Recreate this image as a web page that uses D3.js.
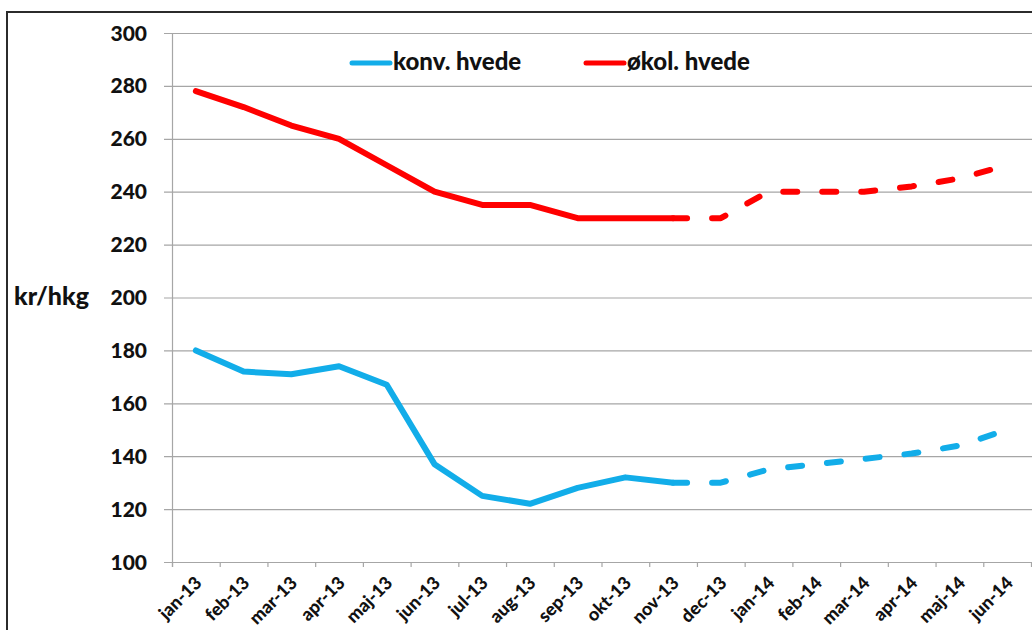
<!DOCTYPE html>
<html>
<head>
<meta charset="utf-8">
<script src="https://cdn.jsdelivr.net/npm/d3@7"></script>
<style>
  html, body { margin: 0; padding: 0; background: #fff; }
  svg { display: block; }
  text { font-family: Lato, "Open Sans", sans-serif; font-weight: 900; fill: #111; }
</style>
</head>
<body>
<svg id="chart" width="1032" height="630"></svg>
<script>
// ---- data ----
const categories = ["jan-13","feb-13","mar-13","apr-13","maj-13","jun-13","jul-13","aug-13","sep-13","okt-13","nov-13","dec-13","jan-14","feb-14","mar-14","apr-14","maj-14","jun-14"];
const konvHvede = [180,172,171,174,167,137,125,122,128,132,130,130,135,137,139,141,144,150];
const okolHvede = [278,272,265,260,250,240,235,235,230,230,230,230,240,240,240,242,245,250];
const seriesNames = ["konv. hvede","økol. hvede"];
const yTicks = [100,120,140,160,180,200,220,240,260,280,300];
const lastActualIndex = 10; // nov-13: solid up to here, dashed after
const yLabel = "kr/hkg";

// ---- layout ----
const svg = d3.select("#chart");
const W = 1032, H = 630;
const plot = { left: 172, right: 1031, top: 33, bottom: 562 };
const colors = ["#12ade9", "#ff0000"];

// frame
svg.append("rect").attr("x", 7).attr("y", 12).attr("width", W + 20).attr("height", H + 20)
  .attr("fill", "none").attr("stroke", "#2b2b2b").attr("stroke-width", 2);

const x = d3.scaleBand().domain(categories).range([plot.left, plot.right]).padding(0);
const y = d3.scaleLinear().domain([100, 300]).range([plot.bottom, plot.top]);

// horizontal gridlines
svg.append("g").selectAll("line").data(yTicks).join("line")
  .attr("x1", plot.left - 8).attr("x2", plot.right + 10)
  .attr("y1", d => y(d) + 0.5).attr("y2", d => y(d) + 0.5)
  .attr("stroke", "#a6a6a6").attr("stroke-width", 1.2);

// y axis line
svg.append("line").attr("x1", plot.left + 0.5).attr("x2", plot.left + 0.5)
  .attr("y1", plot.top).attr("y2", plot.bottom + 5)
  .attr("stroke", "#a6a6a6").attr("stroke-width", 1.2);

// y tick labels
svg.append("g").selectAll("text").data(yTicks).join("text")
  .attr("x", 147).attr("y", d => y(d)).attr("dy", "0.36em")
  .attr("text-anchor", "end").attr("font-size", 21)
  .text(d => d);

// x ticks (category boundaries)
const bounds = categories.map(c => x(c)).concat([plot.right]);
svg.append("g").selectAll("line").data(bounds).join("line")
  .attr("x1", d => d + 0.5).attr("x2", d => d + 0.5)
  .attr("y1", plot.bottom).attr("y2", plot.bottom + 5)
  .attr("stroke", "#a6a6a6").attr("stroke-width", 1.2);

// x labels
svg.append("g").selectAll("text").data(categories).join("text")
  .attr("transform", d => `translate(${x(d) + x.bandwidth() / 2 + 7},${plot.bottom + 22}) rotate(-45)`)
  .attr("text-anchor", "end").attr("font-size", 18)
  .text(d => d);

// y axis title
svg.append("text").attr("x", 14).attr("y", 305).attr("font-size", 25).text(yLabel);

// lines
const cx = i => x(categories[i]) + x.bandwidth() / 2;
const line = d3.line().x(d => cx(d.i)).y(d => y(d.v)).curve(d3.curveLinear);
[konvHvede, okolHvede].forEach((vals, s) => {
  const pts = vals.map((v, i) => ({ i, v }));
  svg.append("path").attr("d", line(pts.slice(0, lastActualIndex + 1)))
    .attr("fill", "none").attr("stroke", colors[s]).attr("stroke-width", 6)
    .attr("stroke-linecap", "round").attr("stroke-linejoin", "round");
  svg.append("path").attr("d", line(pts.slice(lastActualIndex)))
    .attr("fill", "none").attr("stroke", colors[s]).attr("stroke-width", 6)
    .attr("stroke-linecap", "round").attr("stroke-linejoin", "round")
    .attr("stroke-dasharray", "14,25");
});

// legend
const legend = [{ x: 352, tx: 393 }, { x: 586, tx: 627 }];
legend.forEach((l, s) => {
  svg.append("line").attr("x1", l.x).attr("x2", l.x + 38).attr("y1", 63).attr("y2", 63)
    .attr("stroke", colors[s]).attr("stroke-width", 5).attr("stroke-linecap", "round");
  svg.append("text").attr("x", l.tx).attr("y", 70).attr("font-size", 24).text(seriesNames[s]);
});
</script>
</body>
</html>
